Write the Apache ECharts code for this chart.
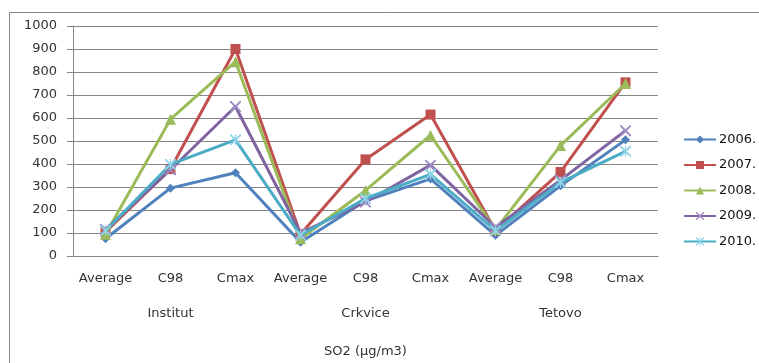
<!DOCTYPE html>
<html><head><meta charset="utf-8">
<script src="https://cdn.jsdelivr.net/npm/echarts@6/dist/echarts.min.js"></script>
<style>html,body{margin:0;padding:0;background:#fff}#c{width:759px;height:363px}</style>
</head><body><div id="c"></div>
<script>
const categories = ['Average','C98','Cmax','Average','C98','Cmax','Average','C98','Cmax'];
const groups = ['Institut','Crkvice','Tetovo'];
const axisTitle = 'SO2 (µg/m3)';
const yTicks = {min:0, max:1000, interval:100};
const names = ['2006.','2007.','2008.','2009.','2010.'];
const s2006 = [75, 295, 362, 60, 240, 335, 90, 305, 505];
const s2007 = [105, 378, 900, 95, 420, 615, 110, 365, 755];
const s2008 = [95, 595, 845, 75, 285, 525, 115, 480, 750];
const s2009 = [115, 375, 650, 100, 235, 395, 125, 330, 545];
const s2010 = [110, 398, 505, 90, 250, 355, 110, 320, 455];
const values = [s2006, s2007, s2008, s2009, s2010];
const colors = ['#4F81BD','#C0504D','#9BBB59','#8064A2','#4BACC6'];
const symColors = ['#4F81BD','#C0504D','#9BBB59','#9d8cc4','#8fd3e6'];
const X = 'path://M0,0 L1.2,0 L5,3.8 L8.8,0 L10,0 L10,1.2 L6.2,5 L10,8.8 L10,10 L8.8,10 L5,6.2 L1.2,10 L0,10 L0,8.8 L3.8,5 L0,1.2 Z';
const STAR = 'path://M0,0 L1.2,0 L5,3.8 L8.8,0 L10,0 L10,1.2 L6.2,5 L10,8.8 L10,10 L8.8,10 L5,6.2 L1.2,10 L0,10 L0,8.8 L3.8,5 L0,1.2 Z M4.5,0 L5.5,0 L5.5,10 L4.5,10 Z';
const symbols = ['diamond','rect','triangle',X,STAR];
const symSizes = [9,10,11,11,11];
const font = 'DejaVu Sans';
const gray = '#868686';

const chart = echarts.init(document.getElementById('c'));
chart.setOption({
  animation:false,
  textStyle:{fontFamily:font},
  graphic:[{type:'rect',left:7,top:10,shape:{width:800,height:400},style:{fill:'none',stroke:gray,lineWidth:1},silent:true,z:-1}],
  grid:{left:73,right:101,top:26,bottom:107},
  legend:{orient:'vertical',left:683,top:133,padding:0,itemWidth:32,itemHeight:10,itemGap:12.5,
    textStyle:{fontFamily:font,fontSize:13,color:'#111',padding:[0,0,0,-2]},data:names},
  xAxis:[
    {type:'category',data:categories,position:'bottom',
      axisLine:{lineStyle:{color:gray}},
      axisTick:{length:36,interval:0,lineStyle:{color:gray}},
      axisLabel:{margin:16,fontSize:13,color:'#333',interval:0}},
    {type:'category',data:groups,position:'bottom',
      axisLine:{show:false},
      axisTick:{length:72,interval:0,lineStyle:{color:gray}},
      axisLabel:{margin:51,fontSize:13,color:'#333',interval:0}},
    {type:'category',data:[axisTitle],position:'bottom',
      axisLine:{show:false},
      axisTick:{length:110,interval:0,lineStyle:{color:gray}},
      axisLabel:{margin:89,fontSize:13,color:'#333',interval:0}}
  ],
  yAxis:{type:'value',min:yTicks.min,max:yTicks.max,interval:yTicks.interval,
    axisLine:{show:true,lineStyle:{color:gray}},
    axisTick:{show:true,length:6,lineStyle:{color:gray}},
    splitLine:{lineStyle:{color:gray}},
    axisLabel:{margin:16,fontSize:13,color:'#333',formatter:v=>String(v)}},
  series: names.map((n,i)=>({
    name:n,type:'line',xAxisIndex:0,data:values[i],
    symbol:symbols[i],symbolSize:symSizes[i],showAllSymbol:true,
    lineStyle:{color:colors[i],width:3},
    itemStyle:{color:symColors[i],borderWidth:0},
    z:2+i
  }))
});
</script></body></html>
